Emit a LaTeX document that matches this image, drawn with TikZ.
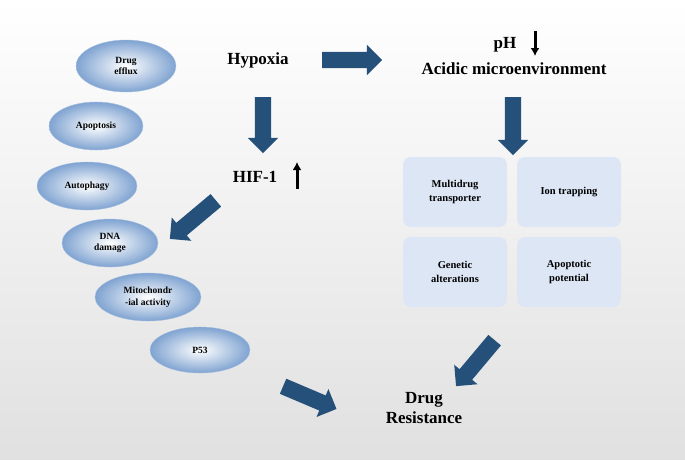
\documentclass[tikz,border=0pt]{standalone}
\usepackage{fontspec}
\setmainfont{Liberation Serif}
\usetikzlibrary{shapes.arrows,shapes.geometric,arrows.meta}
\definecolor{arrowblue}{HTML}{24507A}
\definecolor{boxblue}{HTML}{DCE6F4}
\definecolor{ellblue}{HTML}{7FA3D1}
\tikzset{
  fatarrow/.style={single arrow, fill=arrowblue, draw=none, minimum width=30pt,
    single arrow head extend=7pt, single arrow head indent=0pt, inner sep=8pt},
  factor/.style={ellipse, shading=radial, inner color=white, outer color=ellblue,
    draw=ellblue!70!white, thin, align=center, font=\bfseries\fontsize{9.5}{11.5}\selectfont},
  cause/.style={rounded corners=8pt, fill=boxblue, minimum width=104pt, minimum height=70pt,
    align=center, font=\bfseries\fontsize{10.5}{13.5}\selectfont},
  title/.style={font=\bfseries\fontsize{17}{20}\selectfont, align=center}
}
\begin{document}
\begin{tikzpicture}[x=1pt,y=-1pt]
\shade[top color=white, bottom color=black!12] (0,0) rectangle (685,459);
\useasboundingbox (0,0) rectangle (685,459);

% titles
\node[title] (hyp) at (258,60) {Hypoxia};
\node[title] (ph) at (505,45) {pH};
\draw[line width=3pt, -{Latex[length=8pt,width=9pt]}] (535,31) -- (535,56);
\node[title] (acid) at (514,69) {Acidic microenvironment};
\node[title] (hif) at (255,177) {HIF-1};
\draw[line width=3pt, -{Latex[length=8pt,width=9pt]}] (297,189) -- (297,162);
\node[title] (res) at (424,408) {Drug\\Resistance};

% fat arrows
\node[fatarrow, minimum height=60pt] (a1) at (348,60) {};
\node[fatarrow, minimum height=56pt, rotate=-90] (a2) at (263,121) {};
\node[fatarrow, minimum height=58pt, rotate=-90] (a3) at (513,122) {};
\node[fatarrow, minimum height=60pt, rotate=-140] (a4) at (196,217) {};
\node[fatarrow, minimum height=60pt, rotate=-130] (a5) at (478,360) {};
\node[fatarrow, minimum height=58pt, rotate=-23] (a6) at (306,396) {};

% causes
\node[cause] (mdr) at (455,192) {Multidrug\\transporter};
\node[cause] (ion) at (569,192) {Ion trapping};
\node[cause] (gen) at (455,272) {Genetic\\alterations};
\node[cause] (apo) at (569,272) {Apoptotic\\potential};

% factors
\node[factor, minimum width=100pt, minimum height=52pt] (eff) at (126,66) {Drug\\efflux};
\node[factor, minimum width=94pt, minimum height=48pt] (apt) at (96,126) {Apoptosis};
\node[factor, minimum width=100pt, minimum height=48pt] (aut) at (87,186) {Autophagy};
\node[factor, minimum width=96pt, minimum height=48pt] (dna) at (110,243) {DNA\\damage};
\node[factor, minimum width=106pt, minimum height=48pt] (mit) at (148,297) {Mitochondr\\-ial activity};
\node[factor, minimum width=100pt, minimum height=46pt] (p53) at (200,350) {P53};
\end{tikzpicture}
\end{document}
